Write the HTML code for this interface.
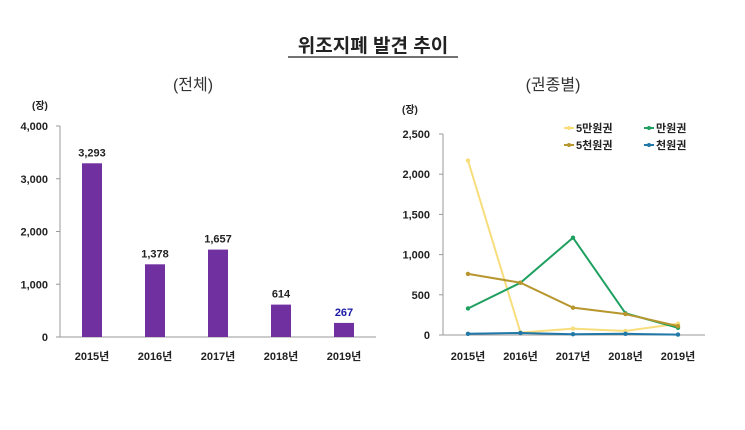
<!DOCTYPE html>
<html><head><meta charset="utf-8"><style>
body{margin:0;background:#fff;font-family:"Liberation Sans","Noto Sans CJK KR",sans-serif;}
svg text{font-family:"Liberation Sans","Noto Sans CJK KR",sans-serif;}
</style></head><body>
<svg id="s" width="745" height="425" xmlns="http://www.w3.org/2000/svg">
<text x="373" y="52" text-anchor="middle" font-size="19" font-weight="bold" fill="#222">위조지폐 발견 추이</text>
<line x1="288" y1="57" x2="458" y2="57" stroke="#444" stroke-width="1.5"/>
<text x="193" y="90" text-anchor="middle" font-size="16" fill="#333">(전체)</text>
<text x="553" y="90" text-anchor="middle" font-size="16" fill="#333">(권종별)</text>
<text x="32" y="109" font-size="10" font-weight="bold" fill="#222">(장)</text>
<text x="402" y="113" font-size="10" font-weight="bold" fill="#222">(장)</text>
<g id="L"></g><g id="R"></g>
</svg>
<script>
const years=["2015년","2016년","2017년","2018년","2019년"];
const totals=[3293,1378,1657,614,267];
const totalLabels=["3,293","1,378","1,657","614","267"];
const leftTicks=[0,1000,2000,3000,4000];
const leftTickLabels=["0","1,000","2,000","3,000","4,000"];
const s50k=[2170,30,80,50,140];
const s10k=[330,650,1210,270,90];
const s5k=[760,650,340,260,110];
const s1k=[15,25,10,15,5];
const rightTicks=[0,500,1000,1500,2000,2500];
const rightTickLabels=["0","500","1,000","1,500","2,000","2,500"];
const NS="http://www.w3.org/2000/svg";
function mk(p,t,a){const e=document.createElementNS(NS,t);for(const k in a)e.setAttribute(k,a[k]);p.appendChild(e);return e;}
// left
const L=document.getElementById('L');
const ly=v=>337-v*(211/4000), lx=i=>92+i*63;
let e=mk(L,'line',{x1:60,y1:126,x2:60,y2:337,stroke:'#999'});

e=mk(L,'line',{x1:60,y1:337,x2:376,y2:337,stroke:'#999'});

leftTicks.forEach((t,i)=>{mk(L,'line',{x1:56,x2:60,y1:ly(t),y2:ly(t),stroke:'#999'});
 e=mk(L,'text',{x:48,y:ly(t)+4,'text-anchor':'end','font-size':11,'font-weight':'bold',fill:'#222'});e.textContent=leftTickLabels[i];
 });
totals.forEach((v,i)=>{e=mk(L,'rect',{x:lx(i)-10,y:ly(v),width:20,height:337-ly(v),fill:'#7030a0'});
 
 e=mk(L,'text',{x:lx(i),y:ly(v)-7,'text-anchor':'middle','font-size':11,'font-weight':'bold',fill:i==4?'#1a1aa8':'#222'});e.textContent=totalLabels[i];
 
 e=mk(L,'text',{x:lx(i),y:360,'text-anchor':'middle','font-size':11,'font-weight':'bold',fill:'#222'});e.textContent=years[i];
 });
// right
const R=document.getElementById('R');
const ry=v=>335-v*(201/2500), rx=i=>468+i*52.5;
e=mk(R,'line',{x1:443,y1:134,x2:443,y2:335,stroke:'#999'});

e=mk(R,'line',{x1:443,y1:335,x2:705,y2:335,stroke:'#999'});

rightTicks.forEach((t,i)=>{mk(R,'line',{x1:439,x2:443,y1:ry(t),y2:ry(t),stroke:'#999'});
 e=mk(R,'text',{x:430,y:ry(t)+4,'text-anchor':'end','font-size':11,'font-weight':'bold',fill:'#222'});e.textContent=rightTickLabels[i];
 });
years.forEach((y,i)=>{e=mk(R,'text',{x:rx(i),y:360,'text-anchor':'middle','font-size':11,'font-weight':'bold',fill:'#222'});e.textContent=y;
 });
const series=[[s50k,'#f7dd7c','5만원권','line-50000won'],[s10k,'#1fa060','만원권','line-10000won'],[s5k,'#b8962e','5천원권','line-5000won'],[s1k,'#1f78a8','천원권','line-1000won']];
series.forEach(([d,c,n,id])=>{e=mk(R,'polyline',{points:d.map((v,i)=>rx(i)+','+ry(v)).join(' '),fill:'none',stroke:c,'stroke-width':2});
 
 d.forEach((v,i)=>{e=mk(R,'circle',{cx:rx(i),cy:ry(v),r:2.2,fill:c});});});
const lg=[[572,128],[652,128],[572,145],[652,145]];
series.forEach(([d,c,n],i)=>{const [x,y]=lg[i];
 mk(R,'line',{x1:x-8,x2:x+2,y1:y,y2:y,stroke:c,'stroke-width':2});mk(R,'circle',{cx:x-3,cy:y,r:2,fill:c});
 e=mk(R,'text',{x:x+4,y:y+4,'font-size':11,'font-weight':'bold',fill:'#222'});e.textContent=n;
 });
</script>
</body></html>
